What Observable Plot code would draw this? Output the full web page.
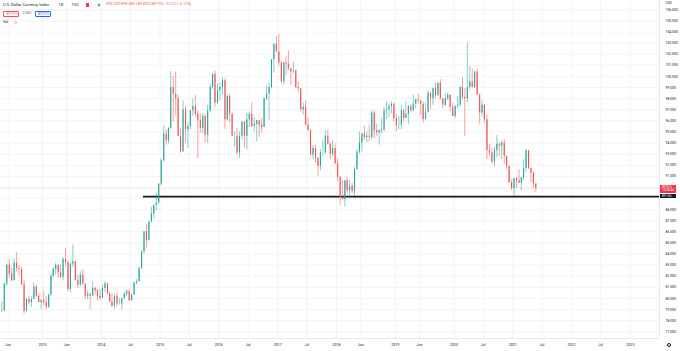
<!DOCTYPE html>
<html>
<head>
<meta charset="utf-8">
<script src="https://cdn.jsdelivr.net/npm/d3@7"></script>
<script src="https://cdn.jsdelivr.net/npm/@observablehq/plot@0.6"></script>
<style>
  html, body { margin: 0; padding: 0; background: #ffffff; }
  #wrap { position: relative; width: 680px; height: 351px; overflow: hidden; font-family: Roboto, "Liberation Sans", sans-serif; }
  .t { position: absolute; white-space: nowrap; line-height: 1; }
  .box { position: absolute; line-height: 1; box-sizing: border-box; white-space: nowrap; }
</style>
</head>
<body>
<div id="wrap"></div>
<script>
// ---------------- DATA (semi-monthly candles) ----------------
const firstHalfMonth = "2012-04-16";
const closes = [
  // 2012 (Apr H2 .. Dec H2)
  78.9, 81.3, 83.0, 82.2, 81.6, 83.2, 82.7, 82.6, 81.2, 78.8, 79.9, 79.6, 79.9, 81.0, 80.2, 79.6, 79.8,
  // 2013
  79.6, 79.2, 80.3, 82.0, 82.6, 83.0, 82.3, 81.9, 83.5, 83.2, 80.8, 83.1, 83.3, 81.6, 81.2, 82.1, 81.3, 80.2, 80.4, 80.2, 80.9, 80.7, 80.2, 80.0,
  // 2014
  80.9, 81.3, 80.4, 79.7, 79.3, 80.2, 79.5, 79.5, 80.0, 80.4, 80.6, 79.8, 80.3, 81.4, 81.5, 82.7, 84.2, 86.0, 85.2, 86.9, 87.6, 88.4, 88.6, 90.3,
  // 2015
  92.4, 94.8, 94.2, 95.3, 99.0, 98.4, 98.0, 94.6, 93.2, 97.0, 95.2, 95.5, 96.9, 97.3, 96.6, 96.0, 95.3, 96.4, 94.7, 96.9, 99.0, 100.2, 97.6, 98.7,
  // 2016
  99.0, 99.6, 96.1, 98.2, 96.6, 94.6, 94.6, 93.1, 94.6, 95.9, 94.6, 96.1, 96.6, 95.5, 95.7, 96.0, 95.6, 95.4, 98.0, 98.4, 99.0, 101.5, 102.9, 102.2,
  // 2017
  101.2, 99.5, 101.2, 101.1, 100.7, 100.4, 100.5, 99.0, 98.9, 97.0, 97.2, 95.6, 95.1, 92.9, 93.5, 92.6, 91.9, 93.1, 93.1, 94.6, 93.9, 93.0, 93.5, 92.1,
  // 2018
  90.9, 89.1, 88.9, 90.6, 89.7, 90.1, 89.6, 91.6, 93.2, 94.0, 94.8, 94.5, 94.6, 94.5, 96.7, 95.1, 94.9, 95.1, 95.2, 96.9, 97.0, 97.3, 97.5, 96.2,
  // 2019
  95.6, 95.6, 96.9, 96.2, 96.6, 97.3, 96.9, 97.5, 97.9, 97.8, 97.5, 96.1, 96.8, 98.5, 98.0, 98.9, 98.3, 99.4, 98.0, 97.4, 98.0, 98.3, 97.2, 96.4,
  // 2020
  97.3, 97.4, 99.0, 98.1, 98.0, 99.0, 99.5, 99.0, 100.4, 98.3, 96.7, 97.4, 96.1, 93.3, 93.1, 92.3, 93.3, 93.9, 93.7, 94.0, 92.8, 91.9, 90.4, 89.9,
  // 2021 (Jan H1 .. May H2)
  90.8, 90.6, 90.4, 90.9, 91.7, 93.3, 91.7, 91.3, 90.3, 89.915
];
const highs = [
  79.7, 81.4, 83.1, 83.5, 82.7, 83.6, 84.1, 83.0, 82.8, 81.6, 80.0, 80.2, 80.2, 81.4, 81.2, 80.4, 79.9,
  80.6, 80.2, 80.4, 82.2, 82.8, 83.2, 83.0, 83.0, 83.7, 84.5, 83.4, 83.2, 84.8, 83.3, 82.1, 82.4, 82.6, 81.3, 80.7, 80.4, 81.5, 81.0, 80.8, 80.8,
  81.2, 81.5, 81.4, 80.6, 80.4, 80.4, 80.5, 80.0, 80.0, 80.6, 80.8, 80.8, 80.4, 81.5, 81.7, 82.8, 84.3, 86.0, 86.7, 86.9, 88.2, 88.4, 89.5, 90.3,
  92.6, 95.5, 95.2, 95.4, 100.4, 100.0, 100.4, 98.3, 95.3, 97.8, 97.3, 95.8, 96.9, 98.0, 98.3, 96.9, 96.6, 96.6, 96.6, 97.4, 99.3, 100.2, 100.5, 99.3,
  99.4, 99.9, 99.8, 98.3, 98.4, 96.7, 95.0, 95.3, 95.0, 95.9, 95.9, 96.7, 96.8, 97.6, 96.3, 96.0, 96.0, 96.2, 98.1, 99.1, 99.4, 101.5, 102.9, 103.6,
  103.8, 101.4, 101.3, 101.8, 102.3, 100.7, 101.3, 100.6, 99.5, 98.9, 97.6, 97.8, 96.3, 95.2, 93.8, 93.8, 92.7, 93.4, 94.2, 95.1, 95.2, 94.0, 94.2, 93.9,
  92.6, 91.0, 90.6, 90.6, 90.9, 90.6, 90.4, 91.8, 93.4, 95.0, 94.9, 95.5, 95.0, 95.6, 96.9, 96.9, 95.7, 95.2, 96.2, 97.2, 97.7, 97.5, 97.7, 97.6,
  96.6, 96.4, 97.4, 97.0, 97.7, 97.4, 97.5, 98.3, 97.9, 98.4, 97.8, 97.7, 97.6, 98.7, 98.5, 99.0, 99.4, 99.4, 99.7, 98.0, 98.4, 98.5, 98.3, 97.6,
  97.4, 98.2, 99.1, 99.9, 98.9, 103.0, 100.9, 100.7, 100.4, 100.6, 98.4, 97.8, 97.5, 96.5, 93.9, 93.5, 93.6, 94.7, 94.0, 94.2, 94.3, 92.8, 91.9, 90.7,
  90.8, 90.9, 91.6, 90.9, 92.5, 93.4, 93.2, 91.8, 91.4, 90.4
];
const lows = [
  78.7, 78.8, 81.1, 81.8, 81.5, 81.6, 82.4, 82.0, 81.2, 78.6, 78.9, 79.4, 79.2, 79.9, 80.1, 79.6, 79.0,
  79.3, 79.0, 79.1, 80.2, 81.9, 82.1, 81.8, 81.8, 81.6, 82.8, 80.6, 80.5, 82.8, 81.6, 80.9, 81.0, 81.2, 79.9, 79.9, 79.0, 80.2, 80.3, 79.8, 79.8,
  80.0, 80.5, 80.3, 79.6, 79.2, 79.0, 79.2, 79.4, 78.9, 79.9, 80.2, 79.7, 79.9, 80.5, 81.2, 81.5, 82.6, 84.0, 84.5, 85.2, 86.8, 87.2, 87.9, 88.4,
  90.1, 92.3, 93.8, 93.9, 95.2, 95.9, 96.4, 94.6, 93.1, 93.3, 94.0, 93.5, 95.2, 96.4, 96.3, 92.6, 94.9, 94.8, 94.0, 94.0, 96.7, 98.8, 97.2, 97.5,
  97.8, 98.3, 95.2, 96.0, 95.8, 94.6, 93.6, 92.9, 92.6, 94.3, 93.5, 93.4, 95.4, 95.4, 95.0, 94.1, 94.5, 94.9, 95.4, 97.8, 96.0, 98.9, 100.3, 102.2,
  100.9, 99.4, 99.2, 100.1, 100.5, 99.2, 100.2, 98.9, 98.5, 96.8, 96.5, 95.6, 95.1, 92.9, 92.5, 92.2, 91.0, 91.5, 92.8, 93.0, 93.8, 92.5, 92.8, 92.1,
  90.5, 88.4, 88.9, 88.25, 89.4, 89.0, 89.4, 89.2, 91.8, 93.0, 93.2, 94.2, 94.0, 94.1, 94.3, 94.4, 94.6, 93.8, 94.8, 95.0, 96.1, 96.3, 96.6, 95.9,
  95.0, 95.2, 95.2, 95.9, 96.2, 95.7, 96.7, 96.8, 97.1, 97.5, 96.5, 95.8, 96.1, 96.7, 97.0, 97.4, 98.0, 98.2, 97.9, 97.1, 97.3, 97.8, 96.8, 96.4,
  96.2, 97.1, 97.3, 97.9, 94.6, 97.6, 98.8, 99.2, 98.9, 98.3, 95.7, 96.4, 95.8, 92.5, 92.8, 92.1, 91.8, 92.7, 92.8, 92.5, 92.1, 91.6, 90.4, 89.7,
  89.2, 89.9, 90.3, 89.7, 90.6, 91.3, 91.6, 90.4, 89.9, 89.5
];

const yTicks = d3.range(77, 107);
const yTicksHidden = [89, 90]; // covered by the price-scale badges
const xTickDates = ["2012-06-01","2013-01-01","2013-06-01","2014-01-01","2014-07-01","2015-01-01","2015-07-01","2016-01-01","2016-07-01","2017-01-01","2017-07-01","2018-01-01","2018-06-01","2019-01-01","2019-06-01","2020-01-01","2020-07-01","2021-01-01","2021-07-01","2022-01-01","2022-07-01","2023-01-01"];
const xTickLabels = ["Jun","2013","Jun","2014","Jul","2015","Jul","2016","Jul","2017","Jul","2018","Jun","2019","Jun","2020","Jul","2021","Jul","2022","Jul","2023"];

const lastPrice = 89.915;
const supportLevel = 89.166;
const supportStart = "2014-09-20";
const legendName = "U.S. Dollar Currency Index";
const legendInterval = "1D";
const legendExchange = "TVC";
const legendOHLC = "O90.029 H90.080 L89.890 C89.915 −0.112 (−0.12%)";
const countdown = "13:28:44";

// ---------------- BUILD ----------------
const UP = "#26a69a", DOWN = "#ef5350";
const periods = [];
for (let m = new Date(Date.UTC(2012, 3, 1)); m < new Date(Date.UTC(2021, 5, 1)); m = d3.utcMonth.offset(m, 1)) {
  periods.push(m, d3.utcDay.offset(m, 15));
}
while (periods[0] < new Date(firstHalfMonth)) periods.shift();
const candles = closes.map((c, i) => {
  const start = periods[i];
  const end = i + 1 < periods.length ? periods[i + 1] : d3.utcDay.offset(start, 15);
  const open = i > 0 ? closes[i - 1] : c;
  return {
    mid: new Date((+start + +end) / 2),
    open, close: c,
    high: Math.max(highs[i], open, c),
    low: Math.min(lows[i], open, c),
    color: c >= open ? UP : DOWN
  };
});

const xDomain = [new Date("2012-04-15"), new Date("2023-07-01")];
const yDomain = [76.39, 106.84];
const tickDates = xTickDates.map(d => new Date(d));
const labelByTime = new Map(tickDates.map((d, i) => [+d, xTickLabels[i]]));
const yLabelTicks = yTicks.filter(v => !yTicksHidden.includes(v));

const chart = Plot.plot({
  width: 680, height: 351,
  marginLeft: 0, marginRight: 21, marginTop: 0, marginBottom: 13,
  style: { fontFamily: "Roboto, 'Liberation Sans', sans-serif", background: "#ffffff", color: "#131722" },
  x: { type: "utc", domain: xDomain },
  y: { domain: yDomain },
  marks: [
    Plot.ruleY(yTicks, { stroke: "#eef1f7", strokeWidth: 0.8 }),
    Plot.ruleX(tickDates, { stroke: "#eef1f7", strokeWidth: 0.8 }),
    Plot.ruleY([lastPrice], { stroke: DOWN, strokeOpacity: 0.3, strokeWidth: 0.7, strokeDasharray: "1,1" }),
    Plot.ruleY([{ y: supportLevel, x1: new Date(supportStart), x2: xDomain[1] }], { y: "y", x1: "x1", x2: "x2", stroke: "#131722", strokeWidth: 1.8 }),
    Plot.ruleX(candles, { x: "mid", y1: "low", y2: "high", stroke: "color", strokeWidth: 0.55 }),
    Plot.ruleX(candles, { x: "mid", y1: "open", y2: "close", stroke: "color", strokeWidth: 1.1 }),
    Plot.ruleX([xDomain[1]], { stroke: "#e0e3eb", strokeWidth: 0.8 }),
    Plot.ruleY([yDomain[0]], { stroke: "#e0e3eb", strokeWidth: 0.8 }),
    Plot.axisY(yLabelTicks, { anchor: "right", tickSize: 0, tickPadding: 6, tickFormat: d => d.toFixed(3), fontSize: 3.4, fill: "#131722", label: null }),
    Plot.axisX(tickDates, { anchor: "bottom", tickSize: 0, tickPadding: 4.5, tickFormat: d => labelByTime.get(+d), fontSize: 3.6, fill: "#131722", label: null })
  ]
});
const wrap = document.getElementById("wrap");
wrap.appendChild(chart);

function add(cls, text, css) {
  const el = document.createElement("div");
  el.className = cls;
  el.textContent = text;
  Object.assign(el.style, css);
  wrap.appendChild(el);
  return el;
}
// legend (top-left)
add("t", legendName, { left: "3px", top: "3.2px", fontSize: "4px", color: "#131722" });
add("t", legendInterval, { left: "58.5px", top: "3.2px", fontSize: "4px", color: "#131722" });
add("t", legendExchange, { left: "71.5px", top: "3.2px", fontSize: "4px", color: "#131722" });
add("box", "", { left: "86px", top: "3.2px", width: "3px", height: "3.4px", background: "#f23645" });
add("box", "", { left: "97.6px", top: "3.6px", width: "2.6px", height: "2.6px", background: "#089981", borderRadius: "50%", boxShadow: "0 0 0 0.8px rgba(8,153,129,0.25)" });
add("t", legendOHLC, { left: "106px", top: "3.4px", fontSize: "3.7px", color: "#ef5350" });
add("box", "89.915", { left: "3px", top: "11.4px", width: "16px", height: "5.4px", border: "0.5px solid #ef5350", borderRadius: "1px", color: "#ef5350", fontSize: "3.5px", padding: "0.8px 0 0 2.6px" });
add("t", "0.000", { left: "22.5px", top: "12.3px", fontSize: "3.5px", color: "#6a6d78" });
add("box", "89.915", { left: "34.5px", top: "11.4px", width: "16px", height: "5.4px", border: "0.5px solid #2962ff", borderRadius: "1px", color: "#2962ff", fontSize: "3.5px", padding: "0.8px 0 0 2.6px" });
add("t", "Vol", { left: "3px", top: "20.6px", fontSize: "3.7px", color: "#131722" });
add("box", "", { left: "13.6px", top: "20.6px", width: "3.6px", height: "3.6px", border: "0.5px solid #f7a5a9", borderRadius: "50%" });
// price scale header and badges
add("t", "USD", { left: "665.5px", top: "2.2px", fontSize: "3.3px", color: "#131722" });
const ys = chart.scale("y");
const yLast = ys.apply(lastPrice), ySup = ys.apply(supportLevel);
const lastBox = add("box", "", { left: "659.5px", top: (yLast - 2.6) + "px", width: "16px", height: "7.4px", background: "#f23645", color: "#fff", fontSize: "3.1px", padding: "0.6px 0 0 2.4px" });
lastBox.innerHTML = lastPrice.toFixed(3) + "<br>" + countdown;
add("box", supportLevel.toFixed(3), { left: "659.5px", top: (ySup - 1.9) + "px", width: "16px", height: "3.8px", background: "#131722", color: "#fff", fontSize: "3.1px", padding: "0.4px 0 0 2.4px" });
// settings circle bottom right
add("box", "", { left: "666.6px", top: "342.8px", width: "4.4px", height: "4.4px", border: "0.6px solid #131722", borderRadius: "50%" });
</script>
</body>
</html>
